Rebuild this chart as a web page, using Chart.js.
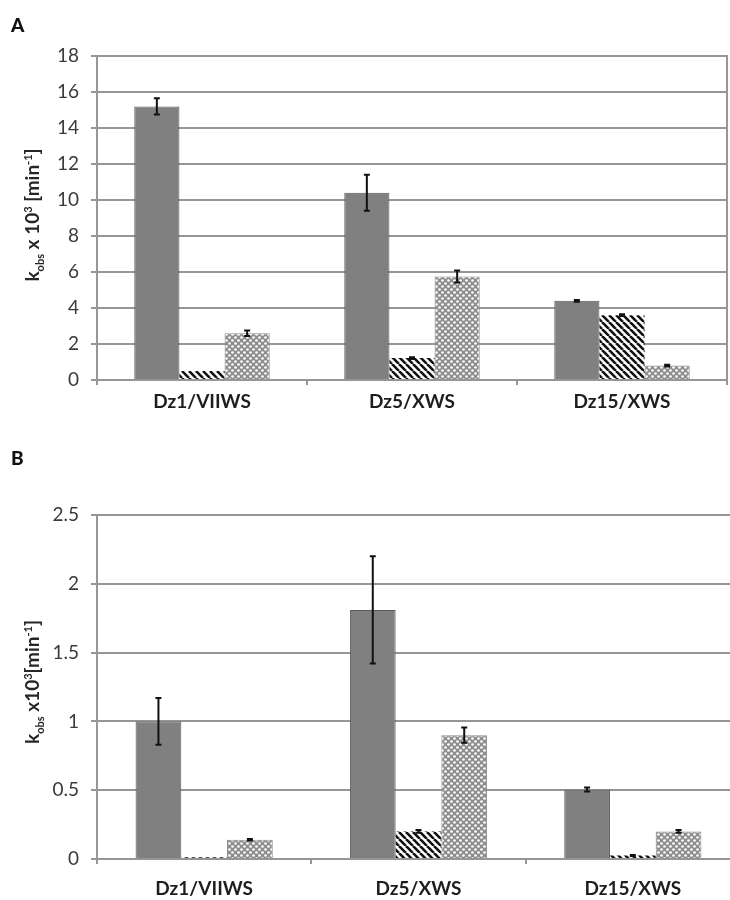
<!DOCTYPE html>
<html>
<head>
<meta charset="utf-8">
<script src="https://cdn.jsdelivr.net/npm/chart.js@4.4.1/dist/chart.umd.min.js"></script>
<style>
  html, body { margin:0; padding:0; background:#fff; width:730px; height:900px; overflow:hidden; }
  #wrap { position:relative; width:730px; height:900px; overflow:hidden; }
  canvas { position:absolute; left:0; }
  #cA { top:0; }
  #cB { top:440px; }
  .plabel { position:absolute; font-family:Lato, "Open Sans", sans-serif; font-weight:900; font-size:19px; line-height:19px; color:#111; }
  .ytitle { position:absolute; font-family:Lato, "Open Sans", sans-serif; font-weight:bold; font-size:19px; color:#262626;
            white-space:nowrap; transform:translate(-50%,-50%) rotate(-90deg); }
  .ytitle sub, .ytitle sup { font-size:11px; }
</style>
</head>
<body>
<div id="wrap">
  <canvas id="cA" width="730" height="420"></canvas>
  <canvas id="cB" width="760" height="460"></canvas>
  <div class="plabel" style="left:11px; top:15px;">A</div>
  <div class="plabel" style="left:11px; top:448px;">B</div>
  <div class="ytitle" style="left:33px; top:215px;">k<sub>obs</sub> x 10<sup>3</sup> [min<sup>-1</sup>]</div>
  <div class="ytitle" style="left:33px; top:682px;">k<sub>obs</sub> x10<sup>3</sup>[min<sup>-1</sup>]</div>
</div>
<script>
// ---------- data ----------
const categories = ['Dz1/VIIWS', 'Dz5/XWS', 'Dz15/XWS'];

// Panel A
const aSolid      = [15.2, 10.4, 4.4];
const aSolidErr   = [0.45, 1.0, 0.05];
const aHatch      = [0.5, 1.22, 3.6];
const aHatchErr   = [0.0, 0.05, 0.05];
const aCross      = [2.6, 5.75, 0.8];
const aCrossErr   = [0.15, 0.33, 0.05];
const aTicks      = [0, 2, 4, 6, 8, 10, 12, 14, 16, 18];

// Panel B
const bSolid      = [1.0, 1.81, 0.505];
const bSolidErr   = [0.17, 0.39, 0.015];
const bHatch      = [0.012, 0.2, 0.025];
const bHatchErr   = [0.0, 0.01, 0.004];
const bCross      = [0.14, 0.9, 0.2];
const bCrossErr   = [0.005, 0.055, 0.01];
const bTicks      = [0, 0.5, 1, 1.5, 2, 2.5];

// ---------- patterns ----------
function hatchPattern() {
  const t = 7, c = document.createElement('canvas');
  c.width = t; c.height = t;
  const g = c.getContext('2d');
  g.fillStyle = '#fff'; g.fillRect(0, 0, t, t);
  g.strokeStyle = '#111'; g.lineWidth = 2.6;
  for (const k of [-t, 0, t]) { g.beginPath(); g.moveTo(k, 0); g.lineTo(k + t, t); g.stroke(); }
  return g.createPattern(c, 'repeat');
}
function crossPattern() {
  const t = 6, c = document.createElement('canvas');
  c.width = t; c.height = t;
  const g = c.getContext('2d');
  g.fillStyle = '#8e8e8e'; g.fillRect(0, 0, t, t);
  g.fillStyle = '#fff';
  for (const [cx, cy] of [[1.5, 1.5], [4.5, 4.5]]) {
    g.beginPath(); g.arc(cx, cy, 1.35, 0, Math.PI * 2); g.fill();
  }
  return g.createPattern(c, 'repeat');
}

// ---------- error bar plugin ----------
const errorBars = {
  id: 'errorBars',
  afterDatasetsDraw(chart) {
    const ctx = chart.ctx, ys = chart.scales.y;
    ctx.save();
    ctx.strokeStyle = '#111';
    ctx.lineWidth = 2;
    chart.data.datasets.forEach((ds, di) => {
      const meta = chart.getDatasetMeta(di);
      (ds.errors || []).forEach((e, i) => {
        if (!e) return;
        const bar = meta.data[i];
        const v = ds.data[i];
        const y1 = ys.getPixelForValue(v + e), y2 = ys.getPixelForValue(v - e);
        const x = bar.x, w = 3;
        ctx.beginPath();
        ctx.moveTo(x, y1); ctx.lineTo(x, y2);
        ctx.moveTo(x - w, y1); ctx.lineTo(x + w, y1);
        ctx.moveTo(x - w, y2); ctx.lineTo(x + w, y2);
        ctx.stroke();
      });
    });
    ctx.restore();
  }
};

const FONT = 'Lato, "Open Sans", sans-serif';
const GRID = '#969696';

function makeChart(id, s1, e1, s2, e2, s3, e3, ticks, opts) {
  const hp = hatchPattern(), cp = crossPattern();
  return new Chart(document.getElementById(id), {
    type: 'bar',
    data: {
      labels: categories,
      datasets: [
        { data: s1, errors: e1, backgroundColor: '#808080', borderColor: '#5a5a5a', borderWidth: 1 },
        { data: s2, errors: e2, backgroundColor: hp, borderColor: '#333', borderWidth: 0 },
        { data: s3, errors: e3, backgroundColor: cp, borderColor: '#8a8a8a', borderWidth: 1 }
      ]
    },
    options: {
      responsive: false,
      animation: false,
      devicePixelRatio: 1,
      layout: { padding: opts.padding },
      plugins: { legend: { display: false }, tooltip: { enabled: false } },
      datasets: { bar: { categoryPercentage: opts.catPct, barPercentage: 1 } },
      scales: {
        x: {
          offset: true,
          grid: { display: true, drawOnChartArea: false, drawTicks: true, tickLength: 5, color: GRID, lineWidth: 2, offset: true },
          border: { display: true, color: GRID, width: 2 },
          ticks: { color: '#1e1e1e', font: { family: FONT, size: 19, weight: 'bold' }, padding: opts.xPad, maxRotation: 0 },
          afterFit(s) { s.height = opts.xHeight; }
        },
        y: {
          min: ticks[0], max: ticks[ticks.length - 1],
          ticks: { stepSize: ticks[1] - ticks[0], color: '#3a3a3a', font: { family: FONT, size: 19 }, padding: 12,
                   callback: (v) => ticks.includes(v) ? String(v) : '' },
          grid: { color: GRID, lineWidth: 2, tickLength: 6 },
          border: { display: true, color: GRID, width: 2 },
          afterFit(s) { s.width = 97; }
        },
        ...(opts.rightBorder ? {
          yr: {
            position: 'right', display: true,
            ticks: { display: false },
            grid: { display: false },
            border: { display: true, color: GRID, width: 2 },
            afterFit(s) { s.width = 0; }
          }
        } : {})
      }
    },
    plugins: [errorBars]
  });
}

makeChart('cA', aSolid, aSolidErr, aHatch, aHatchErr, aCross, aCrossErr, aTicks,
  { padding: { top: 56, left: 0, right: 3, bottom: 0 }, catPct: 0.645, xPad: 5, xHeight: 40, rightBorder: true });
makeChart('cB', bSolid, bSolidErr, bHatch, bHatchErr, bCross, bCrossErr, bTicks,
  { padding: { top: 75, left: 0, right: 20, bottom: 0 }, catPct: 0.64, xPad: 13, xHeight: 41, rightBorder: false });
</script>
</body>
</html>
